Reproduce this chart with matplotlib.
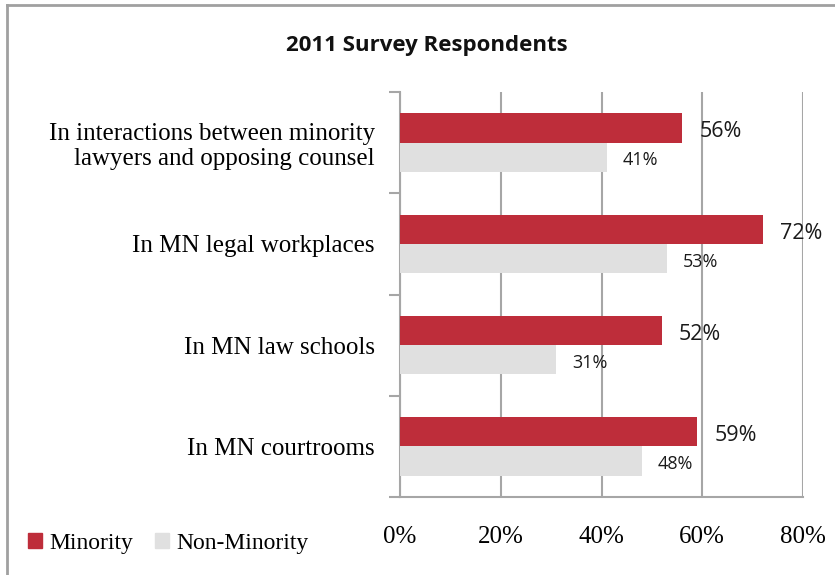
import matplotlib
matplotlib.use("Agg")
import matplotlib.pyplot as plt
import numpy as np
from matplotlib.patches import Rectangle
from matplotlib.lines import Line2D

categories = ["In interactions between minority\nlawyers and opposing counsel",
              "In MN legal workplaces",
              "In MN law schools",
              "In MN courtrooms"]
minority = [56, 72, 52, 59]
non_minority = [41, 53, 31, 48]
xticks = [0, 20, 40, 60, 80]
xtick_labels = ["0%", "20%", "40%", "60%", "80%"]
series_names = ["Minority", "Non-Minority"]
title = "2011 Survey Respondents"

RED = "#BE2D3A"
GRAY = "#E0E0E0"
GRID = "#A6A6A6"

fig = plt.figure(figsize=(8.35, 5.75), dpi=100)
W, H = 835, 575
ax = fig.add_axes([400 / W, 1 - 497 / H, (803 - 400) / W, (497 - 92) / H])

n = len(categories)
pos = np.arange(n)
bh = 0.29
ax.barh(pos - bh / 2, minority, height=bh, color=RED, zorder=3)
ax.barh(pos + bh / 2, non_minority, height=bh, color=GRAY, zorder=3)

ax.set_xlim(0, 80)
ax.set_ylim(n - 0.5, -0.5)
ax.set_xticks(xticks)
ax.set_xticklabels(xtick_labels, family="Liberation Serif", fontsize=18)
ax.tick_params(axis="x", length=0, pad=21)
ax.set_yticks(pos)
ax.set_yticklabels(categories, family="Liberation Serif", fontsize=18,
                   linespacing=1.15)
ax.tick_params(axis="y", length=0, pad=18)
ax.set_yticks(np.arange(n + 1) - 0.5, minor=True)
ax.tick_params(axis="y", which="minor", length=8, color=GRID, width=1.5)
ax.set_xticks(xticks, minor=True)
ax.tick_params(axis="x", which="minor", length=8, color=GRID, width=1.5, direction="inout")

ax.grid(axis="x", color=GRID, linewidth=1.5, zorder=0)
for s in ["top", "right"]:
    ax.spines[s].set_visible(False)
for s in ["left", "bottom"]:
    ax.spines[s].set_color(GRID)
    ax.spines[s].set_linewidth(1.5)

for i, (m, nm) in enumerate(zip(minority, non_minority)):
    ax.text(m + 3.4, i - bh / 2 + 0.04, f"{m}%", va="center", ha="left",
            family="Open Sans", fontsize=15.5, color="#1a1a1a")
    ax.text(nm + 3.1, i + bh / 2 + 0.03, f"{nm}%", va="center", ha="left",
            family="Open Sans", fontsize=13, color="#1a1a1a")

fig.text(427 / W, 1 - 45 / H, title, ha="center", va="center",
         family="Open Sans", fontweight="bold", fontsize=16, color="#111111")

# legend
handles = [Rectangle((0, 0), 1, 1, color=RED), Rectangle((0, 0), 1, 1, color=GRAY)]
leg = fig.legend(handles, series_names, loc="center left",
                 bbox_to_anchor=(7 / W, 1 - 543 / H), ncol=2, frameon=False,
                 prop={"family": "Liberation Serif", "size": 17},
                 handlelength=0.6, handleheight=0.6, handletextpad=0.3,
                 columnspacing=0.9)

# chart border
fig.add_artist(Line2D([7 / W, 7 / W], [0, 1 - 5 / H], color="#A0A0A0", lw=2,
                      transform=fig.transFigure))
fig.add_artist(Line2D([7 / W, 1], [1 - 5 / H, 1 - 5 / H], color="#A0A0A0", lw=2,
                      transform=fig.transFigure))

fig.savefig("out.png", dpi=100)
